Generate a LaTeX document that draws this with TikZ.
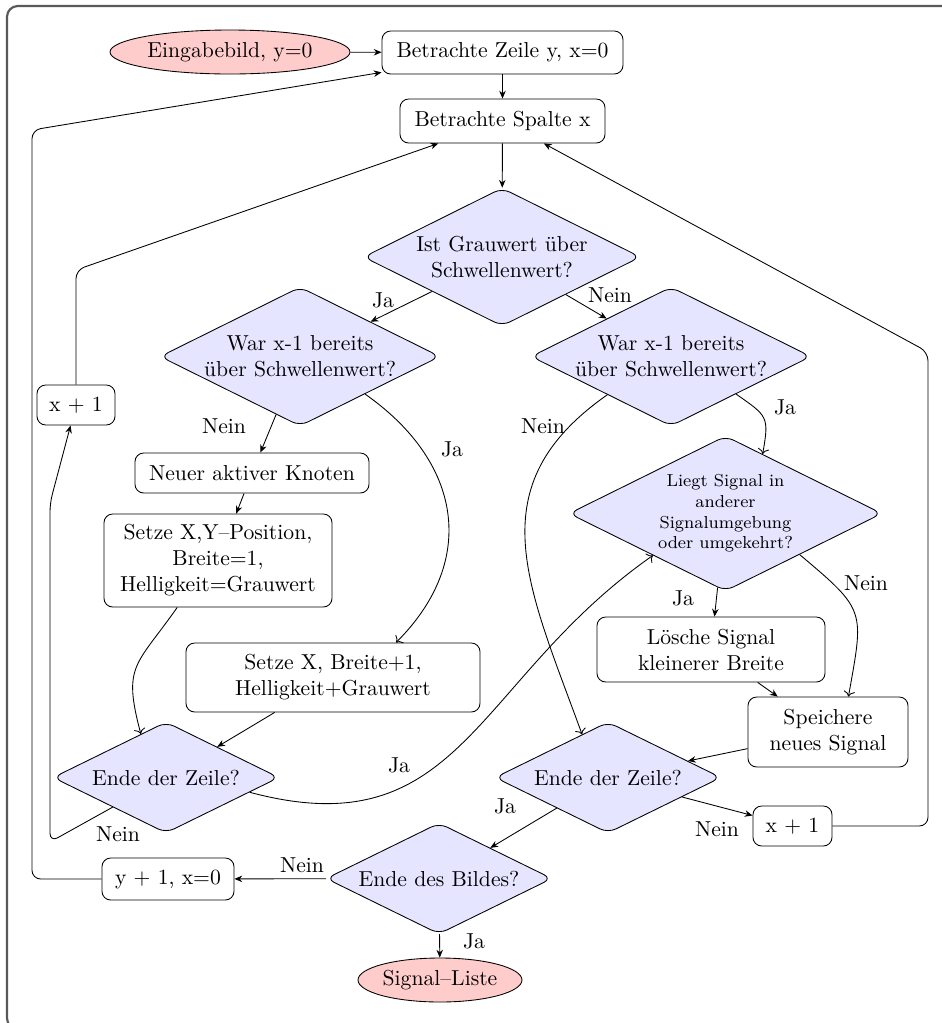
\documentclass[tikz,border=0pt]{standalone}
\usetikzlibrary{shapes.geometric,arrows.meta}
\newdimen\pxu
\pxu=0.462pt
\tikzset{
  block/.style={draw, fill=white, rounded corners=4pt, align=center, inner sep=0pt},
  decision/.style={diamond, draw, fill=blue!10, rounded corners=4pt, aspect=2, align=center, inner sep=0pt},
  terminal/.style={ellipse, draw, fill=red!20, inner sep=0pt},
  sz/.style 2 args={minimum width=#1*\pxu, minimum height=#2*\pxu},
  flow/.style={-{Stealth[length=3.6pt,width=3pt]}},
  bendflow/.style={->},
  loopback/.style={flow, rounded corners=4pt},
  lbl/.style={inner sep=0pt},
}
\begin{document}
\begin{tikzpicture}[x=0.462pt, y=-0.462pt]
\useasboundingbox (0,0) rectangle (942,1023);
\clip (0,0) rectangle (942,1023);
\draw[black!65, line width=1pt, rounded corners=5pt] (7,6) rectangle (1000,1029);

% process nodes
\node[terminal, sz={240}{44}] (start) at (230,52) {Eingabebild, y=0};
\node[block, sz={241}{43}] (zeile) at (502.5,52.5) {Betrachte Zeile y, x=0};
\node[block, sz={205}{44}] (spalte) at (502.5,121) {Betrachte Spalte x};
\node[decision, sz={277}{138}] (ist) at (502,257) {Ist Grauwert über\\Schwellenwert?};
\node[decision, sz={280}{139}] (war1) at (300,356.5) {War x-1 bereits\\über Schwellenwert?};
\node[decision, sz={280}{139}] (war2) at (671,356.5) {War x-1 bereits\\über Schwellenwert?};
\node[block, sz={78}{40}] (xl) at (76,405) {x + 1};
\node[block, sz={234}{40}] (neu) at (252,473) {Neuer aktiver Knoten};
\node[block, sz={228}{93}] (setxy) at (218,560.5) {Setze X,Y--Position,\\Breite=1,\\Helligkeit=Grauwert};
\node[block, sz={294}{69}] (setx) at (333,677.5) {Setze X, Breite+1,\\Helligkeit+Grauwert};
\node[decision, sz={226}{111}] (ende1) at (166,777.5) {Ende der Zeile?};
\node[decision, sz={313}{155}, font=\footnotesize] (liegt) at (725.5,513.5) {Liegt Signal in\\anderer\\Signalumgebung\\oder umgekehrt?};
\node[block, sz={228}{65}] (loesche) at (711,649.5) {Lösche Signal\\kleinerer Breite};
\node[block, sz={160}{70}] (speich) at (828,732) {Speichere\\neues Signal};
\node[decision, sz={226}{111}] (ende2) at (608,777.5) {Ende der Zeile?};
\node[block, sz={79}{40}] (xr) at (792.5,826) {x + 1};
\node[decision, sz={226}{111}] (bild) at (439,878.5) {Ende des Bildes?};
\node[block, sz={132}{42}] (yplus) at (168,879) {y + 1, x=0};
\node[terminal, sz={164}{44}] (stop) at (440,980) {Signal--Liste};

% corner points of the return paths
\coordinate (cA) at (50,842);
\coordinate (cB) at (50,503);
\coordinate (cC) at (76,270);
\coordinate (cD) at (928,826);
\coordinate (cE) at (928,352);
\coordinate (cF) at (32,879);
\coordinate (cG) at (32,130);

% connectors
\draw[flow] (start) -- (zeile);
\draw[flow] (zeile) -- (spalte);
\draw[flow] (spalte) -- (ist);
\draw[flow] (ist) -- (war1);
\draw[flow] (ist) -- (war2);
\draw[flow] (war1) -- (neu);
\draw[flow] (neu) -- (setxy);
\draw[bendflow] (war1.-30) to[out=-35, in=45, looseness=1.2] (setx.29);
\draw[bendflow] (setxy.-131) to[out=-125, in=105, looseness=1.4] (ende1.120);
\draw[flow] (setx) -- (ende1);
\draw[bendflow] (ende1.-10) to[out=-15, in=-145, looseness=1.2] (liegt.-150);
\draw[loopback] (ende1) -- (cA) -- (cB) -- (xl);
\draw[loopback] (xl) -- (cC) -- (spalte);
\draw[bendflow] (war2.-149) to[out=-145, in=110, looseness=1.2] (ende2.121);
\draw[bendflow] (war2.-30) to[out=-35, in=80, looseness=1.5] (liegt.58);
\draw[flow] (liegt) -- (loesche);
\draw[bendflow] (liegt.-29) to[out=-40, in=80, looseness=1.5] (speich.60);
\draw[flow] (loesche) -- (speich);
\draw[flow] (speich) -- (ende2);
\draw[flow] (ende2) -- (xr);
\draw[flow] (ende2) -- (bild);
\draw[loopback] (xr) -- (cD) -- (cE) -- (spalte);
\draw[flow] (bild) -- (yplus);
\draw[loopback] (yplus) -- (cF) -- (cG) -- (zeile);
\draw[flow] (bild) -- (stop);

% branch labels
\node[lbl] (lja1) at (383,300) {Ja};
\node[lbl] (lnein1) at (610,295) {Nein};
\node[lbl] (lnein2) at (224,426) {Nein};
\node[lbl] (lja2) at (452,449) {Ja};
\node[lbl] (lnein3) at (543,426) {Nein};
\node[lbl] (lja3) at (785,407) {Ja};
\node[lbl] (lnein4) at (866,583) {Nein};
\node[lbl] (lja4) at (683,598) {Ja};
\node[lbl] (lja5) at (399,765) {Ja};
\node[lbl] (lnein5) at (118,834) {Nein};
\node[lbl] (lja6) at (505,806) {Ja};
\node[lbl] (lnein6) at (717,829) {Nein};
\node[lbl] (lnein7) at (302,865) {Nein};
\node[lbl] (lja7) at (474,941) {Ja};
\end{tikzpicture}
\end{document}
